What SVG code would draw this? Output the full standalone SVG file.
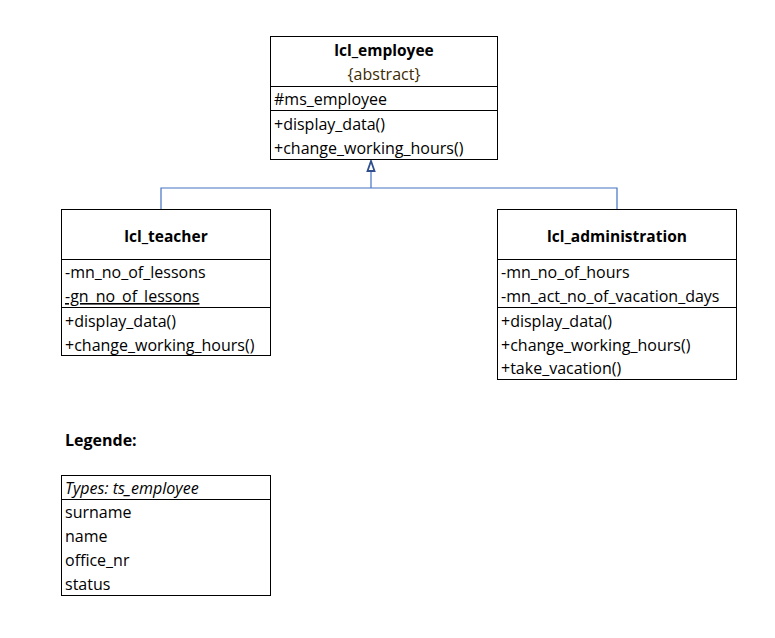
<svg xmlns="http://www.w3.org/2000/svg" width="775" height="638" viewBox="0 0 775 638">
<style>
.box{fill:#fff;stroke:#000;stroke-width:1}
.div{stroke:#000;stroke-width:1}
text{font-family:"Open Sans","Liberation Sans",Arial,sans-serif;font-size:16px;fill:#000}
.t{font-weight:bold;text-anchor:middle;font-size:15.5px}
.c{stroke:#4472c4;stroke-width:1.2;fill:none}
</style>
<defs>
<marker id="gen" markerWidth="10" markerHeight="10" refX="10" refY="5" orient="auto" markerUnits="userSpaceOnUse" viewBox="0 0 10 10" overflow="visible">
<path d="M10 5 L0 1.5 L0 8.5 Z" fill="#fff" stroke="#2f4f8f" stroke-width="1.8" stroke-linejoin="miter"/>
</marker>
</defs>
<rect width="775" height="638" fill="#fff"/>
<g id="connectors">
<path class="c" d="M371 188 V161" marker-end="url(#gen)"/>
<path class="c" d="M161 209 V188 H617 V209"/>
</g>
<g id="lcl_employee">
<rect class="box" x="270.5" y="36.5" width="227" height="123"/>
<line class="div" x1="270" y1="86.5" x2="497" y2="86.5"/>
<line class="div" x1="270" y1="110.5" x2="497" y2="110.5"/>
<text class="t" x="384" y="56">lcl_employee</text>
<text x="384" y="80" text-anchor="middle" style="fill:#3d2a00">{abstract}</text>
<text x="274" y="105">#ms_employee</text>
<text x="274" y="130">+display_data()</text>
<text x="274" y="154">+change_working_hours()</text>
</g>
<g id="lcl_teacher">
<rect class="box" x="61.5" y="209.5" width="209" height="146"/>
<line class="div" x1="61" y1="259.5" x2="270" y2="259.5"/>
<line class="div" x1="61" y1="307.5" x2="270" y2="307.5"/>
<text class="t" x="166" y="242">lcl_teacher</text>
<text x="65" y="278">-mn_no_of_lessons</text>
<text x="65" y="302" text-decoration="underline">-gn_no_of_lessons</text>
<text x="65" y="327">+display_data()</text>
<text x="65" y="351">+change_working_hours()</text>
</g>
<g id="lcl_administration">
<rect class="box" x="497.5" y="209.5" width="239" height="170"/>
<line class="div" x1="497" y1="259.5" x2="736" y2="259.5"/>
<line class="div" x1="497" y1="307.5" x2="736" y2="307.5"/>
<text class="t" x="617" y="242">lcl_administration</text>
<text x="501" y="278">-mn_no_of_hours</text>
<text x="501" y="302">-mn_act_no_of_vacation_days</text>
<text x="501" y="327">+display_data()</text>
<text x="501" y="351">+change_working_hours()</text>
<text x="501" y="374">+take_vacation()</text>
</g>
<g id="legend">
<text x="65" y="446" font-weight="bold" font-size="15.5px">Legende:</text>
<rect class="box" x="61.5" y="475.5" width="209" height="120"/>
<line class="div" x1="61" y1="499.5" x2="270" y2="499.5"/>
<text x="65" y="494" font-style="italic">Types: ts_employee</text>
<text x="65" y="518">surname</text>
<text x="65" y="542">name</text>
<text x="65" y="566">office_nr</text>
<text x="65" y="590">status</text>
</g>
</svg>
